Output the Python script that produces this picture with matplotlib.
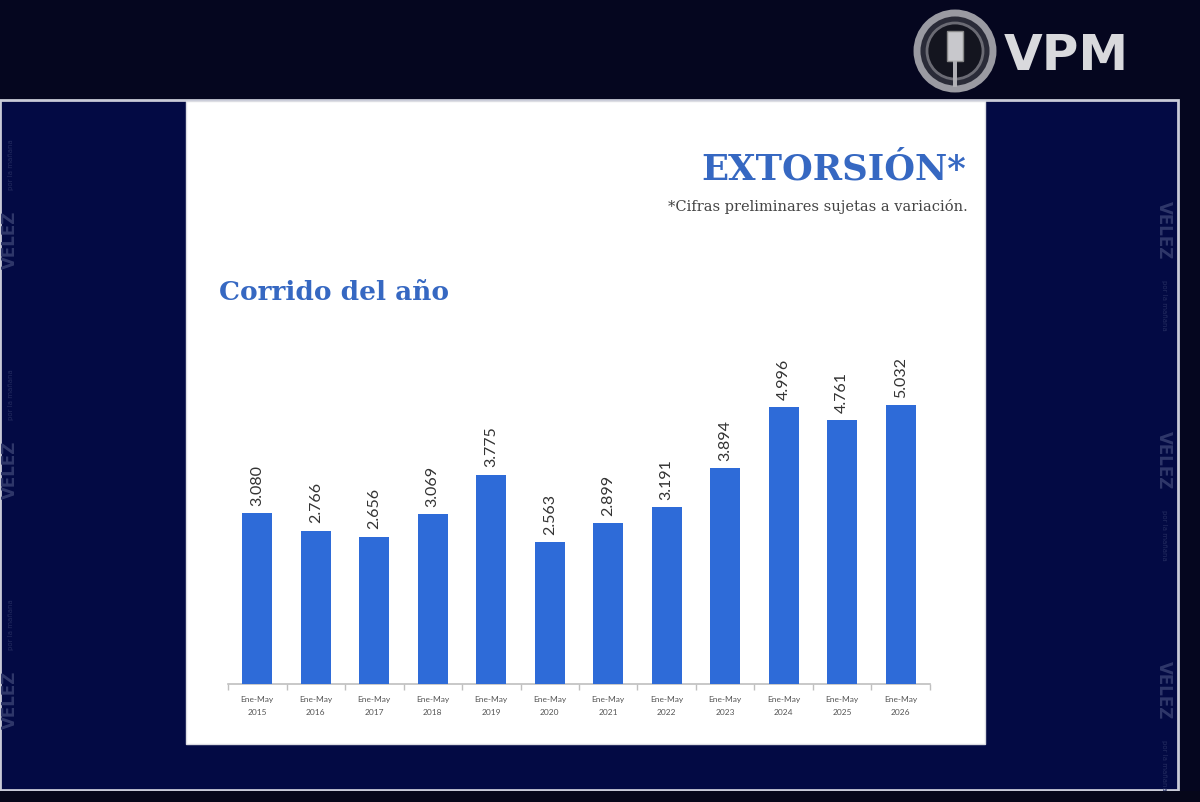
import matplotlib
matplotlib.use("Agg")
import matplotlib.pyplot as plt
from matplotlib.patches import Rectangle, Circle

categories = ["Ene-May\n2015", "Ene-May\n2016", "Ene-May\n2017", "Ene-May\n2018",
              "Ene-May\n2019", "Ene-May\n2020", "Ene-May\n2021", "Ene-May\n2022",
              "Ene-May\n2023", "Ene-May\n2024", "Ene-May\n2025", "Ene-May\n2026"]
values = [3080, 2766, 2656, 3069, 3775, 2563, 2899, 3191, 3894, 4996, 4761, 5032]
value_labels = ["3.080", "2.766", "2.656", "3.069", "3.775", "2.563", "2.899",
                "3.191", "3.894", "4.996", "4.761", "5.032"]
title = "EXTORSIÓN*"
note = "*Cifras preliminares sujetas a variación."
subtitle = "Corrido del año"

W, H = 1200, 803
fig = plt.figure(figsize=(12, 8.03), dpi=100)
fig.patch.set_facecolor("#05061f")

# background decoration axes in pixel coordinates (top-left origin)
bg = fig.add_axes([0, 0, 1, 1])
bg.set_xlim(0, W)
bg.set_ylim(H, 0)
bg.axis("off")

# navy program frame
bg.add_patch(Rectangle((0, 101), 1178, 690, facecolor="#030a44",
                       edgecolor="#c9cbd8", linewidth=2.0, zorder=1))
bg.add_patch(Rectangle((0, 792), W, 11, facecolor="#06071a", edgecolor="none", zorder=1))

# watermark VELEZ texts
for y in [240, 470, 700]:
    bg.text(10, y, "VELEZ", rotation=90, color="#2f376a", fontsize=12,
            fontweight="bold", ha="center", va="center", zorder=2)
    bg.text(11, y - 75, "por la mañana", rotation=90, color="#252d60", fontsize=5,
            ha="center", va="center", zorder=2)
for y in [230, 460, 690]:
    bg.text(1164, y, "VELEZ", rotation=270, color="#2f376a", fontsize=12,
            fontweight="bold", ha="center", va="center", zorder=2)
    bg.text(1164, y + 75, "por la mañana", rotation=270, color="#252d60", fontsize=5,
            ha="center", va="center", zorder=2)

# white slide
bg.add_patch(Rectangle((186, 102), 799, 643, facecolor="white",
                       edgecolor="#dcdde3", linewidth=1, zorder=3))

# VPM logo
bg.add_patch(Circle((955, 52), 38, facecolor="#2a2b38", edgecolor="#9a9aa2",
                    linewidth=5, zorder=3))
bg.add_patch(Circle((955, 52), 28, facecolor="#14151f", edgecolor="#6b6b74",
                    linewidth=2, zorder=3))
bg.add_patch(Rectangle((947, 32), 16, 30, facecolor="#c8c8cc", edgecolor="#888",
                       linewidth=1, zorder=4))
bg.add_patch(Rectangle((953, 62), 4, 26, facecolor="#b0b0b5", edgecolor="none", zorder=4))
bg.text(1004, 56, "VPM", color="#d9d9dd", fontsize=36, fontweight="bold",
        family="DejaVu Sans", ha="left", va="center", zorder=4)

# slide titles
bg.text(966, 170, title, color="#3668c2", fontsize=25.5, fontweight="bold",
        family="DejaVu Serif", ha="right", va="center", zorder=5)
bg.text(968, 207, note, color="#444444", fontsize=10.5,
        family="DejaVu Serif", ha="right", va="center", zorder=5)
bg.text(219, 293, subtitle, color="#3668c2", fontsize=19, fontweight="bold",
        family="DejaVu Serif", ha="left", va="center", zorder=5)

# chart axes
left_px, right_px, base_px = 228, 930, 685
ymax = 6000
px_per_unit = 279 / 5032
top_px = base_px - ymax * px_per_unit
ax = fig.add_axes([left_px / W, (H - base_px) / H, (right_px - left_px) / W,
                   (base_px - top_px) / H])
ax.set_zorder(6)
ax.patch.set_alpha(0)
x = list(range(len(values)))
ax.bar(x, values, width=0.52, color="#2e6bd8", zorder=3)
ax.set_xlim(-0.5, len(values) - 0.5)
ax.set_ylim(0, ymax)
for xi, v, lab in zip(x, values, value_labels):
    ax.annotate(lab, (xi, v), xytext=(0, 6), textcoords="offset points",
                rotation=90, ha="center", va="bottom", fontsize=11.5,
                color="#333333", family="Lato", annotation_clip=False)
for s in ["top", "right", "left"]:
    ax.spines[s].set_visible(False)
ax.spines["bottom"].set_color("#bfbfbf")
ax.spines["bottom"].set_linewidth(1.2)
ax.set_yticks([])
ax.set_xticks(x)
ax.set_xticklabels(categories, fontsize=6, color="#555555", family="Lato",
                   linespacing=1.9)
ax.tick_params(axis="x", which="major", length=0, pad=8)
ax.set_xticks([i - 0.5 for i in range(len(values) + 1)], minor=True)
ax.tick_params(axis="x", which="minor", length=4, color="#bfbfbf", width=1)

fig.savefig("out.png", dpi=100, facecolor=fig.get_facecolor())
